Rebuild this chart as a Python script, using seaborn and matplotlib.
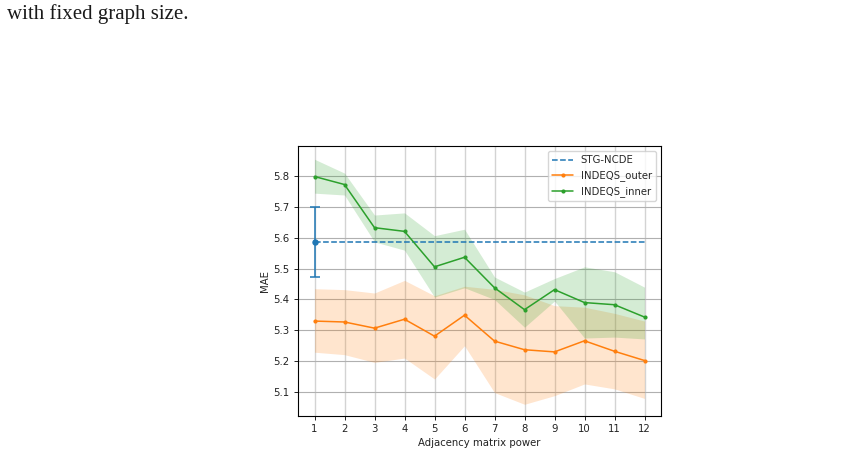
import matplotlib
matplotlib.use("Agg")
import matplotlib.pyplot as plt
import pandas as pd
import seaborn as sns

# =========================
# DATA
# =========================
powers = [1, 2, 3, 4, 5, 6, 7, 8, 9, 10, 11, 12]

outer_mean = [5.330, 5.327, 5.307, 5.336, 5.281, 5.349, 5.265, 5.237, 5.230, 5.266, 5.232, 5.202]
outer_upper = [5.435, 5.432, 5.421, 5.462, 5.412, 5.443, 5.433, 5.415, 5.380, 5.375, 5.355, 5.330]
outer_lower = [5.229, 5.221, 5.196, 5.210, 5.142, 5.250, 5.098, 5.060, 5.088, 5.126, 5.110, 5.079]

inner_mean = [5.799, 5.773, 5.633, 5.621, 5.506, 5.537, 5.438, 5.367, 5.432, 5.390, 5.383, 5.343]
inner_upper = [5.855, 5.810, 5.674, 5.681, 5.607, 5.628, 5.473, 5.424, 5.468, 5.506, 5.490, 5.440]
inner_lower = [5.745, 5.739, 5.587, 5.560, 5.408, 5.438, 5.400, 5.310, 5.395, 5.275, 5.278, 5.272]

stg_mae = 5.587
stg_err = 0.113

# =========================
# FIGURE
# =========================
sns.set_style("white")
plt.rcParams["font.family"] = ["DejaVu Sans"]

fig = plt.figure(figsize=(8.64, 4.54), dpi=100)
fig.text(7 / 864, 1 - 19 / 454, "with fixed graph size.", family="Liberation Serif",
         fontsize=15, color="#1a1a1a", ha="left", va="baseline")

ax = fig.add_axes([298 / 864, 1 - 416 / 454, 363 / 864, 270 / 454])

fs = 7.3
lw = 1.1

stg_df = pd.DataFrame({"power": powers, "mae": [stg_mae] * len(powers)})
sns.lineplot(data=stg_df, x="power", y="mae", ax=ax, color="C0", linestyle="--",
             linewidth=lw, label="STG-NCDE")
ax.errorbar([1], [stg_mae], yerr=[stg_err], fmt="o", color="C0", markersize=3.6,
            capsize=3.6, elinewidth=lw, capthick=lw)

ax.fill_between(powers, outer_lower, outer_upper, color="C1", alpha=0.2, linewidth=0)
ax.fill_between(powers, inner_lower, inner_upper, color="C2", alpha=0.2, linewidth=0)

outer_df = pd.DataFrame({"power": powers, "mae": outer_mean})
inner_df = pd.DataFrame({"power": powers, "mae": inner_mean})
sns.lineplot(data=outer_df, x="power", y="mae", ax=ax, color="C1", marker="o",
             markersize=3, markeredgewidth=0, linewidth=lw, label="INDEQS_outer")
sns.lineplot(data=inner_df, x="power", y="mae", ax=ax, color="C2", marker="o",
             markersize=3, markeredgewidth=0, linewidth=lw, label="INDEQS_inner")

ax.set_xlim(0.45, 12.55)
ax.set_ylim(5.022, 5.898)
ax.set_xticks(powers)
ax.set_yticks([5.1, 5.2, 5.3, 5.4, 5.5, 5.6, 5.7, 5.8])
ax.xaxis.grid(True, color="#d3d3d3", linewidth=1.0)
ax.yaxis.grid(True, color="#b0b0b0", linewidth=0.8)
ax.set_axisbelow(True)

ax.tick_params(axis="both", labelsize=fs, length=2.6, width=0.6, colors="black",
               labelcolor="#222222", bottom=True, left=True)
for sp in ax.spines.values():
    sp.set_color("black")
    sp.set_linewidth(0.8)

ax.set_xlabel("Adjacency matrix power", fontsize=fs, color="#222222", labelpad=2.5)
ax.set_ylabel("MAE", fontsize=fs, color="#222222", labelpad=2.5)

leg = ax.legend(loc="upper right", fontsize=fs, frameon=True, fancybox=True,
                framealpha=0.8, edgecolor="#cccccc", borderpad=0.4,
                handlelength=2.0, labelspacing=0.5)

fig.savefig("out.png", dpi=100, facecolor="white")
